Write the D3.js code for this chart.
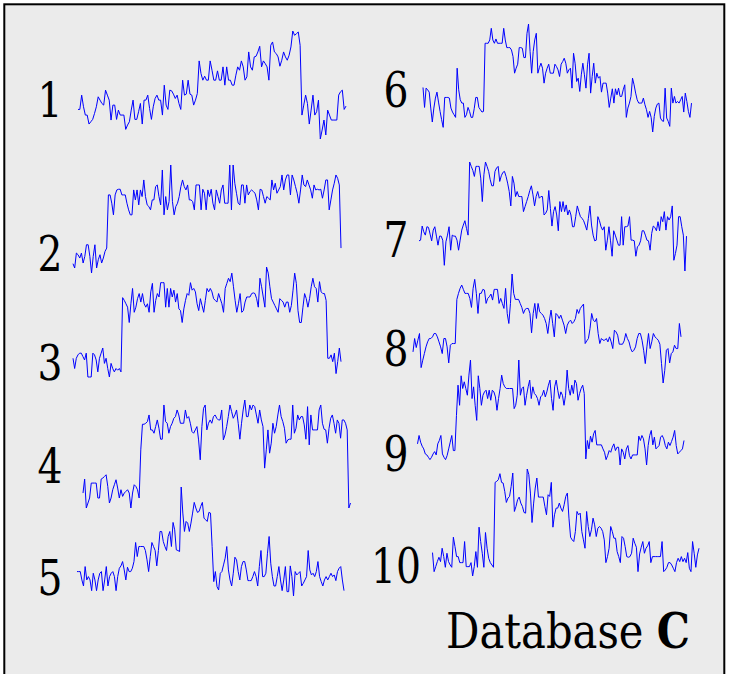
<!DOCTYPE html>
<html>
<head>
<meta charset="utf-8">
<script src="https://cdn.jsdelivr.net/npm/d3@7/dist/d3.min.js"></script>
<style>
html,body{margin:0;padding:0;background:#ffffff;}
svg{display:block;}
</style>
</head>
<body>
<div id="chart"></div>
<script>
// ---- Data (arbitrary amplitude units) ----
const seriesLabels = ["1","2","3","4","5","6","7","8","9","10"];
const titleText = "Database ";
const titleBold = "C";

const s1 = [92,92,135,100,75,75,48,55,62,80,100,130,120,110,105,150,135,120,60,105,105,62,90,75,75,75,32,45,55,90,120,62,62,85,110,48,120,120,135,95,62,100,125,135,120,120,75,165,105,92,150,148,138,125,135,110,92,180,135,138,180,138,135,105,120,140,238,200,180,192,180,180,238,210,180,180,208,180,180,220,165,220,180,180,165,165,195,220,210,238,220,180,190,265,220,210,250,252,265,282,220,238,230,220,180,285,295,265,260,250,222,240,265,250,240,255,280,328,315,320,325,285,75,105,135,110,48,90,135,75,85,120,3,30,60,15,90,75,60,60,60,60,135,145,150,92,102];
const s2 = [38,25,70,65,55,70,40,60,95,95,60,10,60,95,25,50,65,40,55,75,85,245,245,220,185,245,260,262,262,245,245,245,220,200,185,185,260,230,260,215,260,240,290,240,215,210,200,230,230,270,275,240,215,320,185,240,200,225,335,225,185,210,220,240,270,290,270,260,275,230,230,225,200,275,275,275,200,262,250,200,260,240,262,220,200,260,240,220,260,275,220,220,220,335,200,335,280,250,220,215,275,275,220,275,245,255,260,255,250,230,200,262,260,240,220,240,235,230,290,260,280,250,260,270,305,260,290,305,305,245,305,290,270,250,220,260,305,275,270,290,275,260,235,275,260,262,260,262,235,260,290,290,200,230,260,280,305,295,275,85];
const s3 = [70,40,70,80,85,85,75,65,85,15,15,15,85,80,65,30,70,85,100,55,70,40,15,55,40,30,40,35,40,30,248,240,230,220,175,230,275,205,220,245,260,235,260,230,220,230,205,265,290,205,240,260,250,292,292,292,220,275,220,275,250,270,235,260,215,210,175,215,240,260,255,292,270,275,265,230,210,245,225,205,240,275,265,275,265,245,240,235,260,245,230,205,275,290,305,295,320,280,240,205,230,260,205,210,235,250,250,250,260,262,260,245,220,305,280,250,220,338,320,280,245,235,225,215,205,245,240,235,220,235,235,205,225,270,320,290,210,175,175,220,260,245,220,245,280,305,280,275,235,295,265,260,260,240,70,70,80,60,85,25,60,100,60];
const s4 = [50,92,5,20,35,80,80,80,80,35,35,92,95,100,105,70,20,35,60,75,90,65,35,60,40,50,55,60,50,5,50,75,70,60,35,180,257,257,260,265,285,240,240,230,250,270,245,212,212,315,265,260,230,250,260,275,280,300,285,260,260,260,300,275,280,260,235,230,240,250,210,150,250,305,315,240,260,270,260,280,285,275,270,270,300,210,225,250,280,315,295,275,285,300,260,212,260,300,330,280,280,315,300,315,310,285,260,300,270,250,125,180,240,170,200,260,230,250,285,315,280,265,245,200,210,212,212,315,230,245,285,270,280,280,255,212,310,195,285,240,240,240,240,300,315,260,242,240,200,245,275,285,260,230,270,260,215,270,270,260,240,5,20];
const s5 = [85,85,85,60,42,100,60,70,60,28,80,60,28,60,80,85,28,60,100,42,70,80,85,70,28,70,95,102,115,90,60,98,85,85,95,115,172,130,160,160,160,160,148,120,85,130,172,160,148,102,148,205,205,175,160,148,190,205,160,232,210,150,148,145,338,260,205,235,230,205,230,260,292,275,262,265,280,292,245,240,235,262,260,160,55,85,40,30,80,85,105,125,160,90,60,42,80,128,120,85,60,100,115,115,90,58,58,58,70,85,70,42,100,148,70,70,80,140,190,110,70,42,42,70,100,60,28,60,100,25,25,102,70,12,85,75,80,85,42,50,60,70,148,90,75,80,70,85,115,70,55,42,60,70,60,70,80,70,75,58,85,95,100,60,28];
const s6 = [142,82,140,135,128,80,38,80,110,128,98,70,45,22,112,112,112,110,80,68,60,52,200,135,105,95,95,52,60,82,70,52,52,78,112,112,82,75,68,70,275,275,275,285,320,285,275,288,275,275,275,275,320,285,262,262,262,255,235,185,200,212,262,262,260,232,232,305,333,250,185,250,285,305,185,202,215,200,155,185,200,212,185,185,185,212,205,195,175,212,220,230,215,185,195,200,140,245,215,160,170,130,180,215,180,140,210,245,125,175,215,155,185,170,175,128,155,155,155,125,82,110,138,95,138,120,140,115,115,135,150,52,80,95,115,170,150,125,105,95,95,95,110,90,75,52,70,52,8,55,80,92,95,50,42,40,140,50,40,25,140,95,115,95,100,95,105,115,68,125,100,70,52,95];
const s7 = [98,100,142,125,115,140,138,118,98,130,140,112,85,112,112,100,25,95,115,140,70,115,112,112,100,70,100,130,145,158,135,115,333,320,308,290,320,320,320,285,215,295,333,320,305,280,262,262,305,315,320,275,292,302,305,290,270,245,202,290,270,230,245,230,230,230,185,200,215,230,248,262,235,202,230,245,225,230,230,175,180,190,248,195,142,185,200,175,128,215,185,215,185,205,175,190,175,140,140,170,202,185,170,165,158,145,130,165,202,145,115,98,100,170,158,140,130,140,70,100,140,98,52,128,115,100,85,85,170,85,140,140,142,170,100,100,98,52,80,85,98,128,128,115,100,98,70,120,142,138,128,155,128,170,155,185,130,170,160,170,202,40,60,85,170,170,140,115,8,112];
const s8 = [105,145,118,140,160,58,80,100,120,135,145,145,150,160,160,150,135,120,100,145,145,120,72,125,130,130,130,262,280,295,305,292,280,280,280,265,238,295,322,280,220,280,280,292,290,250,265,270,278,260,292,292,292,250,265,250,235,295,220,190,250,338,280,262,262,262,250,238,220,232,235,235,220,162,220,250,205,250,225,220,215,205,190,160,200,230,190,150,220,215,205,215,200,185,160,185,195,200,190,195,205,232,220,235,242,248,130,138,145,175,220,200,195,205,160,130,145,140,140,145,135,150,135,115,170,165,155,128,128,128,138,160,145,135,115,105,110,120,145,160,160,140,110,70,120,160,115,135,160,150,145,140,128,70,12,50,110,115,72,100,105,125,115,115,190,150];
const s9 = [75,100,80,68,60,45,42,35,28,35,45,52,42,75,85,100,45,35,28,40,60,80,100,55,55,160,250,190,278,240,260,240,220,280,325,210,245,190,145,278,240,190,220,230,235,210,235,205,235,230,215,175,210,240,280,255,245,240,240,240,240,240,180,190,220,325,220,240,245,190,220,245,265,210,245,225,220,210,190,215,220,235,215,230,250,265,210,175,245,265,235,210,230,220,190,220,295,240,220,250,225,265,255,205,225,240,250,225,30,85,60,98,80,105,115,72,72,72,72,60,50,28,40,55,50,65,75,55,65,65,12,60,50,30,60,70,40,30,42,42,42,42,98,85,100,90,60,12,70,100,115,72,95,60,65,70,95,100,90,70,60,80,70,82,95,115,70,45,50,55,60,85];
const s10 = [82,25,40,55,68,55,95,70,38,80,55,45,38,128,100,70,70,52,52,52,115,40,40,40,52,12,40,85,38,158,115,80,38,142,95,65,52,45,38,292,295,300,318,292,290,265,232,245,250,280,320,205,220,240,248,230,220,202,200,332,315,260,172,230,275,305,248,248,248,248,220,195,255,250,292,158,195,215,215,230,215,205,225,250,260,185,128,120,115,145,205,195,200,145,120,95,205,160,130,150,185,165,130,155,160,155,145,120,52,70,95,160,145,125,125,85,70,52,130,125,100,70,68,70,80,125,110,98,25,78,98,115,80,95,102,115,52,70,70,70,70,70,70,115,25,30,38,52,52,45,35,25,52,65,55,70,55,65,52,82,35,25,115,80,38,75,95];

const seriesValues = [s1,s2,s3,s4,s5,s6,s7,s8,s9,s10];

// ---- Layout (pixel boxes for each small panel) ----
const W = 730, H = 674;
const FONT = "DejaVu Serif, serif";
const FS = 48;
const panels = [
  {x0:78,  x1:346,   top:31,    bot:139,   lx:50,  ly:117},
  {x0:73,  x1:341,   top:165,   bot:273,   lx:50,  ly:271},
  {x0:73,  x1:341,   top:267,   bot:377,   lx:50,  ly:380},
  {x0:83,  x1:350.5, top:400,   bot:508,   lx:50,  ly:483},
  {x0:77,  x1:344,   top:487,   bot:596,   lx:50,  ly:595},
  {x0:423, x1:691.5, top:24,    bot:132,   lx:396, ly:107},
  {x0:419, x1:686.5, top:162,   bot:271,   lx:396, ly:257},
  {x0:413, x1:681,   top:274,   bot:383,   lx:396, ly:366},
  {x0:417.5,x1:684,  top:360,   bot:465,   lx:396, ly:471},
  {x0:432.5,x1:699,  top:469,   bot:576,   lx:396, ly:583}
];

const svg = d3.select("#chart").append("svg")
  .attr("width", W).attr("height", H);

svg.append("rect")
  .attr("x", 4.3).attr("y", 4.3)
  .attr("width", 720).attr("height", 720)
  .attr("fill", "#ebebeb")
  .attr("stroke", "#000")
  .attr("stroke-width", 2);

seriesValues.forEach((vals, i) => {
  const p = panels[i];
  const x = d3.scaleLinear().domain([0, vals.length - 1]).range([p.x0, p.x1]);
  const y = d3.scaleLinear().domain(d3.extent(vals)).range([p.bot, p.top]);
  const line = d3.line().x((d, j) => x(j)).y(d => y(d));
  svg.append("path")
    .datum(vals)
    .attr("d", line)
    .attr("fill", "none")
    .attr("stroke", "#0000ff")
    .attr("stroke-width", 1);

  const lab = seriesLabels[i];
  svg.append("text")
    .attr("x", p.lx).attr("y", p.ly)
    .attr("text-anchor", "middle")
    .style("font-family", FONT)
    .attr("font-size", FS)
    .attr("textLength", 25 * lab.length)
    .attr("lengthAdjust", "spacingAndGlyphs")
    .attr("fill", "#000")
    .text(lab);
});

// Title: condensed horizontally to the reference's width
const tg = svg.append("g");
const t = tg.append("text")
  .attr("x", 0).attr("y", 0)
  .style("font-family", FONT)
  .attr("font-size", FS)
  .attr("fill", "#000");
t.append("tspan").text(titleText);
t.append("tspan").attr("font-weight", "bold").text(titleBold);
const tw = t.node().getComputedTextLength() || 290;
tg.attr("transform", `translate(446,648) scale(${244 / tw},1)`);
</script>
</body>
</html>
